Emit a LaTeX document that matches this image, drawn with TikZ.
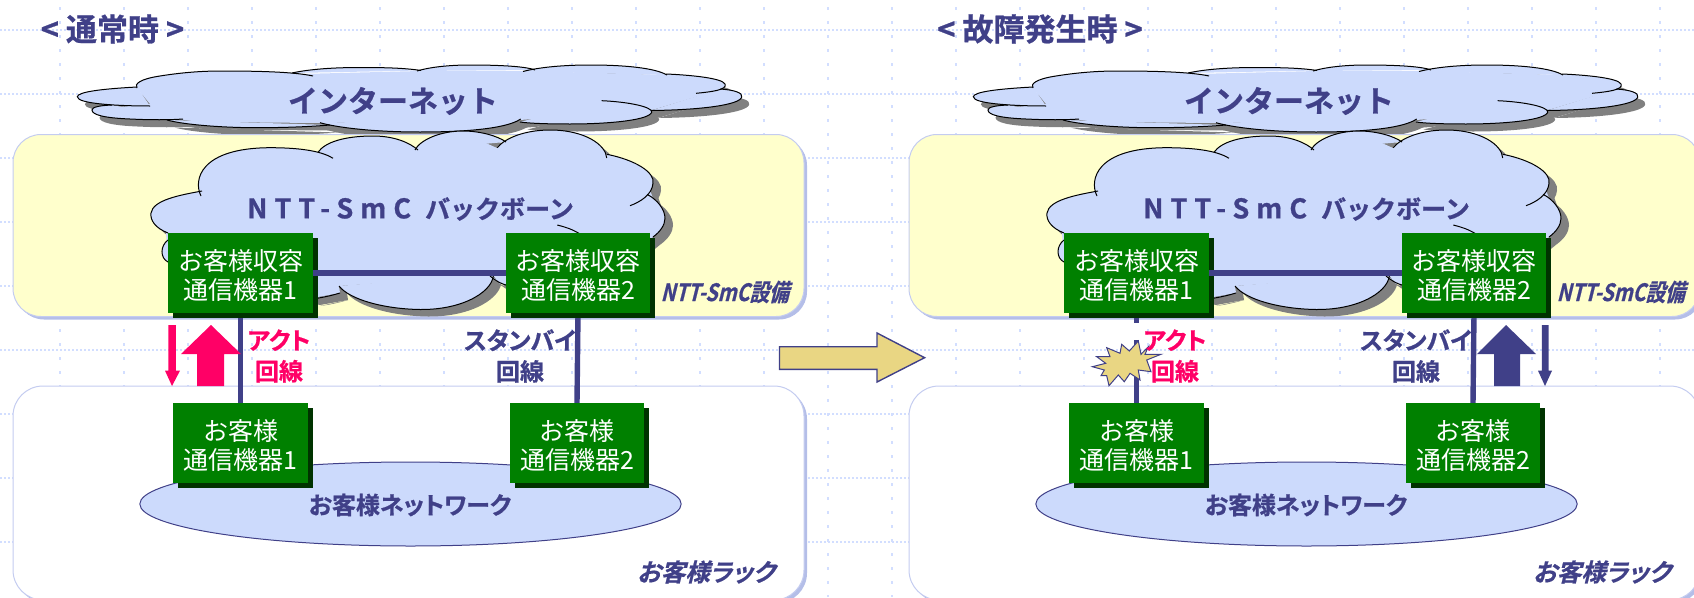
\documentclass[tikz,border=0pt]{standalone}
\usepackage{fontspec}
\setmainfont{Noto Sans CJK JP}
\newfontfamily\jpbold[RawFeature=+palt,FakeBold=0.8]{Noto Sans CJK JP Bold}
\newfontfamily\jpboldfull[FakeBold=0.8]{Noto Sans CJK JP Bold}
\newfontfamily\jpital[FakeSlant=0.25,RawFeature=+palt,FakeBold=0.6]{Noto Sans CJK JP Bold}
\newfontfamily\jpitalnarrow[FakeSlant=0.25,RawFeature=+palt,FakeBold=0.6,FakeStretch=0.82]{Noto Sans CJK JP Bold}
\definecolor{navy}{HTML}{404088}
\definecolor{cloudblue}{HTML}{CCDAFC}
\definecolor{gridblue}{HTML}{D2DEFF}
\definecolor{panelyellow}{HTML}{FFFFCC}
\definecolor{panelline}{HTML}{C4CCF0}
\definecolor{panelshadow}{HTML}{B4BEE8}
\definecolor{boxgreen}{HTML}{008000}
\definecolor{boxdark}{HTML}{003300}
\definecolor{hot}{HTML}{FF0066}
\definecolor{sand}{HTML}{E9D683}
\pgfdeclarelayer{base}
\pgfdeclarelayer{conn}
\pgfsetlayers{base,conn,main}
\newcommand\lift{\rule{0pt}{27pt}}
\tikzset{
  greenbox/.style={fill=boxgreen,text=white,inner sep=0pt,align=center,
    font=\fontsize{25}{29}\selectfont,
    minimum width=#1,minimum height=80pt},
  wire/.style={navy,line width=5.4pt},
  titletext/.style={navy,inner sep=0pt,font=\jpboldfull\fontsize{31}{34}\selectfont},
  cloudtext/.style={navy,inner sep=0pt,font=\jpboldfull\fontsize{30}{34}\selectfont},
  linetext/.style={inner sep=0pt,align=center,font=\jpbold\fontsize{24}{31}\selectfont},
  slanttext/.style={navy,inner sep=0pt,font=\jpital\fontsize{24.5}{26}\selectfont},
  cloudline/.style={draw=black,line width=1pt},
}
\newcommand\netlobes[1]{%
  \path[#1] (137,88) .. controls (134,84) and (140,79) .. (160,76) .. controls (185,72) and (205,71) .. (222,71) .. controls (260,71) and (295,72) .. (313,76);
  \path[#1] (292,73) .. controls (310,69) and (335,67.5) .. (360,67.5) .. controls (385,67.5) and (405,68) .. (421,70.5);
  \path[#1] (417,71) .. controls (430,67) and (450,65) .. (470,65) .. controls (495,65) and (525,66) .. (535,70);
  \path[#1] (523,71.5) .. controls (540,67) and (565,65) .. (590,65) .. controls (625,65) and (655,68) .. (667,75);
  \path[#1] (666,74) .. controls (690,75) and (722,78) .. (725,84) .. controls (728,90) and (710,92) .. (696,93.3);
  \path[#1] (720,89) .. controls (735,90) and (743,93) .. (741.7,97) .. controls (740,105) and (700,110) .. (651,110.5);
  \path[#1] (601.7,100.7) .. controls (630,102) and (652,107) .. (651.7,112) .. controls (650,120) and (610,124) .. (570,124) .. controls (550,124) and (530,123.5) .. (520,122);
  \path[#1] (520.7,119) .. controls (516,122) and (500,132) .. (420,132) .. controls (370,132) and (335,127) .. (320,122.7);
  \path[#1] (330,125) .. controls (300,127.5) and (270,127.7) .. (256,127.7) .. controls (225,127.7) and (185,125) .. (167,120);
  \path[#1] (183,119) .. controls (170,120) and (150,120) .. (130,119) .. controls (105,118) and (92,115) .. (92,110) .. controls (92,107) and (100,105.5) .. (112,105);
  \path[#1] (150,106) .. controls (120,106) and (77,104) .. (77.3,96.7) .. controls (78,92) and (100,89) .. (137,87);
}
\newcommand\netcore[1]{%
  \path[#1] (137,88) -- (222,72) -- (300,74) -- (420,71) -- (530,71) -- (667,75) -- (700,90) -- (719,90) -- (652,110) -- (520,120) -- (320,123) -- (200,122) -- (170,118) -- (120,107) -- (150,104) -- cycle;
}
\newcommand\bonelobes[1]{%
  \path[#1] (201,196) .. controls (193,180) and (200,148) .. (270,147.7) .. controls (295,147.7) and (320,150) .. (333,158.3);
  \path[#1] (318,152.3) .. controls (325,142) and (345,136) .. (373,136) .. controls (395,136) and (410,143) .. (418,150);
  \path[#1] (415,150) .. controls (420,140) and (440,131) .. (463,131) .. controls (480,131) and (498,136) .. (506,142);
  \path[#1] (497.3,147.7) .. controls (505,138) and (525,130) .. (550,130) .. controls (585,130) and (606,145) .. (606.7,158);
  \path[#1] (607,154.3) .. controls (635,160) and (655,172) .. (653,183.3) .. controls (652,195) and (640,202) .. (630,205.7);
  \path[#1] (647,194.3) .. controls (658,200) and (665,210) .. (665,218.3) .. controls (665,225) and (660,232) .. (653,237);
  \path[#1] (557.3,225) .. controls (565,227) and (572,229) .. (580,234);
  \path[#1] (493.3,273) .. controls (495,290) and (465,310) .. (420,309.5) .. controls (385,309) and (350,300) .. (339,286);
  \path[#1] (490,276) .. controls (495,280) and (500,284) .. (510,286);
  \path[#1] (340,293) .. controls (330,296) and (320,298) .. (312,299);
  \path[#1] (168,262) .. controls (160,258) and (160,246) .. (168,240);
  \path[#1] (168,233) .. controls (155,228) and (150,220) .. (151,213) .. controls (153,200) and (180,195) .. (202,191);
}
\newcommand\bonecore[1]{%
  \path[#1] (205,190) -- (270,150) -- (318,153) -- (373,138) -- (415,150) -- (463,133) -- (497,148) -- (550,132) -- (607,155) -- (650,190) -- (660,218) -- (653,237) -- (600,280) -- (500,284) -- (493,275) -- (339,286) -- (340,293) -- (312,298) -- (168,262) -- (166,233) -- (190,198) -- cycle;
}
\newcommand\halfpanel[1]{%
  \begin{pgfonlayer}{base}
    \netlobes{fill=gray,shift={(7.5,7.5)}}
    \netcore{fill=gray,shift={(7.5,7.5)}}
    \netlobes{fill=cloudblue}
    \netcore{fill=cloudblue}
    \netlobes{cloudline}
    \fill[panelshadow,rounded corners=28pt] (16,137.5) rectangle (807,319.5);
    \draw[panelline,fill=panelyellow,line width=1pt,rounded corners=28pt] (13,134.5) rectangle (804,316.5);
    \bonelobes{fill=gray,shift={(8,7)}}
    \bonecore{fill=gray,shift={(8,7)}}
    \bonelobes{fill=cloudblue}
    \bonecore{fill=cloudblue}
    \bonelobes{cloudline}
    \fill[panelshadow,rounded corners=30pt] (16,389) rectangle (807,603);
    \draw[panelline,fill=white,line width=1pt,rounded corners=30pt] (13,386) rectangle (804,600);
    \draw[navy,fill=cloudblue,line width=1pt] (410.5,504) ellipse [x radius=270.7,y radius=42];
  \end{pgfonlayer}
  \node[cloudtext] (net#1) at (393,101) {インターネット};
  \node[navy,inner sep=0pt,anchor=west,font=\jpboldfull\fontsize{25}{30}\selectfont] (bone#1) at (247,209) {{\fontsize{27}{30}\selectfont\addfontfeature{LetterSpace=26}NTT-SmC}\hspace{14pt}バックボーン};
  \node[navy,inner sep=0pt,anchor=east,font=\jpitalnarrow\fontsize{24}{26}\selectfont] (own#1) at (789,292) {NTT-SmC設備};
  \node[slanttext,anchor=east] (rack#1) at (775,572) {お客様ラック};
  \node[navy,inner sep=0pt,font=\jpbold\fontsize{24}{26}\selectfont] (lan#1) at (410,505) {お客様ネットワーク};
  \fill[boxdark] (173,238) rectangle (317.5,317.7);
  \fill[boxdark] (511,238) rectangle (655,317.7);
  \fill[boxdark] (178,408) rectangle (313,488);
  \fill[boxdark] (515,408) rectangle (649,488);
  \node[greenbox=145pt] (ca#1) at (240.5,273) {\lift お客様収容\\通信機器1};
  \node[greenbox=144pt] (cb#1) at (578,273) {\lift お客様収容\\通信機器2};
  \node[greenbox=135pt] (ua#1) at (240.5,443) {\lift お客様\\通信機器1};
  \node[greenbox=134pt] (ub#1) at (577,443) {\lift お客様\\通信機器2};
  \draw[navy,line width=6pt] (ca#1.east) -- (cb#1.west);
  \begin{pgfonlayer}{conn}
    \draw[wire] (cb#1.south) -- (ub#1.north);
  \end{pgfonlayer}
  \node[linetext,text=navy] (stb#1) at (520,356) {スタンバイ\\回線};
}
\begin{document}
\begin{tikzpicture}[x=1pt,y=-1pt]
\useasboundingbox (0,0) rectangle (1694,597);
\begin{pgfonlayer}{base}
  \foreach \gy in {30,94,...,542}
    \draw[gridblue,line width=1.6pt,dash pattern=on 2pt off 2pt] (0,\gy) -- (1694,\gy);
  \foreach \gx in {60,124,...,1690}
    \draw[gridblue,line width=1.6pt,dash pattern=on 3pt off 11pt] (\gx,7) -- (\gx,597);
\end{pgfonlayer}
\node[titletext] (titleA) at (112.5,29) {<\hspace{7pt}通常時\hspace{7pt}>};
\node[titletext] (titleB) at (1040,29) {<\hspace{7pt}故障発生時\hspace{7pt}>};
\begin{scope}
  \halfpanel{L}
  \begin{pgfonlayer}{conn}
    \draw[wire] (caL.south) -- (uaL.north);
  \end{pgfonlayer}
  \fill[hot] (168.3,325) -- (175.8,325) -- (175.8,370.7) -- (180,370.7) -- (172,386) -- (165,370.7) -- (168.3,370.7) -- cycle;
  \fill[hot] (211,325) -- (241,354) -- (224,354) -- (224,386) -- (197,386) -- (197,354) -- (181,354) -- cycle;
  \node[linetext,text=hot] (actL) at (279,356) {アクト\\回線};
\end{scope}
\begin{scope}[xshift=896pt]
  \halfpanel{R}
  \coordinate (breakA) at (240.5,323);
  \coordinate (breakB) at (240.5,340);
  \coordinate (breakC) at (240.5,380);
  \begin{pgfonlayer}{conn}
    \draw[wire] (caR.south) -- (breakA);
    \draw[wire] (breakB) -- (breakC);
    \draw[wire] (breakC) -- (uaR.north);
  \end{pgfonlayer}
\end{scope}
\draw[navy,line width=1.4pt,fill=sand,line join=miter] (779.5,346.7) -- (877,346.7) -- (877,333) -- (924.6,357.7) -- (877,382) -- (877,369.3) -- (779.5,369.3) -- cycle;
\draw[navy,line width=1pt,fill=sand] (1106.7,347.7) -- (1120,353.3) -- (1121.7,344.3) -- (1129.3,351) -- (1138.3,341) -- (1141,354.3) -- (1148.3,346.7) -- (1145,354.3) -- (1161,354.3) -- (1146.7,360) -- (1151,371.7) -- (1138.3,370) -- (1140,380) -- (1130,373.3) -- (1124.3,381.7) -- (1118.3,375) -- (1109,385.7) -- (1106.7,375.7) -- (1101,375.7) -- (1104.3,370) -- (1092.3,366.7) -- (1105.7,363.3) -- (1096.7,356.7) -- (1110,356.7) -- cycle;
\node[linetext,text=hot] (actR) at (1175,356) {アクト\\回線};
\fill[navy] (1506,325) -- (1536,354) -- (1520,354) -- (1520,386) -- (1494,386) -- (1494,354) -- (1477,354) -- cycle;
\fill[navy] (1541.8,325) -- (1548.7,325) -- (1548.7,370.7) -- (1552,370.7) -- (1545,386) -- (1538,370.7) -- (1541.8,370.7) -- cycle;
\end{tikzpicture}
\end{document}
